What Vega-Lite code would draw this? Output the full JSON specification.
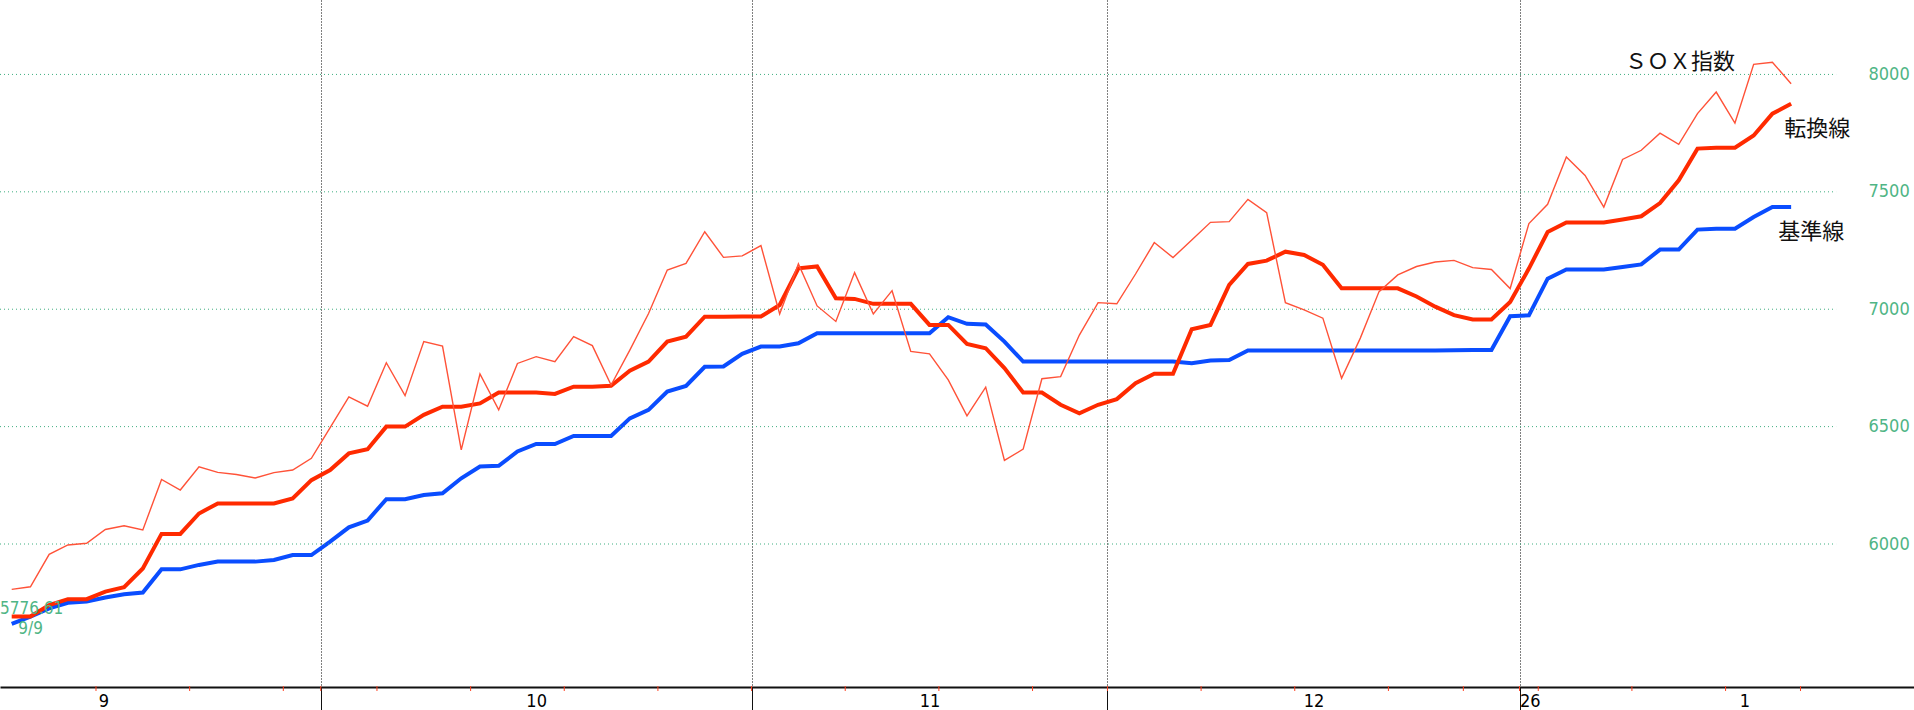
{
  "$schema": "https://vega.github.io/schema/vega-lite/v6.json",
  "width": 1914,
  "height": 687,
  "autosize": {"type": "none"},
  "padding": {"left": 0, "top": 0, "right": 0, "bottom": 23},
  "background": "white",
  "config": {"view": {"stroke": null}, "axis": {"grid": false}},
  "datasets": {
    "d": [
      {"i":0,"sox":5807,"tenkan":5691,"kijun":5660},
      {"i":1,"sox":5818,"tenkan":5691,"kijun":5691},
      {"i":2,"sox":5956,"tenkan":5740,"kijun":5726},
      {"i":3,"sox":5996,"tenkan":5765,"kijun":5750},
      {"i":4,"sox":6003,"tenkan":5765,"kijun":5755},
      {"i":5,"sox":6062,"tenkan":5797,"kijun":5772},
      {"i":6,"sox":6078,"tenkan":5816,"kijun":5786},
      {"i":7,"sox":6060,"tenkan":5896,"kijun":5793},
      {"i":8,"sox":6275,"tenkan":6043,"kijun":5892},
      {"i":9,"sox":6230,"tenkan":6043,"kijun":5892},
      {"i":10,"sox":6329,"tenkan":6130,"kijun":5911},
      {"i":11,"sox":6305,"tenkan":6173,"kijun":5925},
      {"i":12,"sox":6296,"tenkan":6173,"kijun":5925},
      {"i":13,"sox":6281,"tenkan":6173,"kijun":5925},
      {"i":14,"sox":6304,"tenkan":6173,"kijun":5932},
      {"i":15,"sox":6315,"tenkan":6194,"kijun":5953},
      {"i":16,"sox":6365,"tenkan":6272,"kijun":5953},
      {"i":17,"sox":6496,"tenkan":6315,"kijun":6010},
      {"i":18,"sox":6627,"tenkan":6386,"kijun":6071},
      {"i":19,"sox":6587,"tenkan":6404,"kijun":6100},
      {"i":20,"sox":6772,"tenkan":6500,"kijun":6191},
      {"i":21,"sox":6632,"tenkan":6500,"kijun":6191},
      {"i":22,"sox":6862,"tenkan":6550,"kijun":6209},
      {"i":23,"sox":6843,"tenkan":6585,"kijun":6216},
      {"i":24,"sox":6401,"tenkan":6585,"kijun":6280},
      {"i":25,"sox":6724,"tenkan":6599,"kijun":6330},
      {"i":26,"sox":6571,"tenkan":6645,"kijun":6333},
      {"i":27,"sox":6769,"tenkan":6645,"kijun":6394},
      {"i":28,"sox":6798,"tenkan":6645,"kijun":6426},
      {"i":29,"sox":6777,"tenkan":6639,"kijun":6426},
      {"i":30,"sox":6883,"tenkan":6670,"kijun":6460},
      {"i":31,"sox":6845,"tenkan":6670,"kijun":6460},
      {"i":32,"sox":6677,"tenkan":6674,"kijun":6460},
      {"i":33,"sox":6826,"tenkan":6738,"kijun":6535},
      {"i":34,"sox":6982,"tenkan":6777,"kijun":6571},
      {"i":35,"sox":7167,"tenkan":6862,"kijun":6649},
      {"i":36,"sox":7195,"tenkan":6883,"kijun":6673},
      {"i":37,"sox":7330,"tenkan":6968,"kijun":6755},
      {"i":38,"sox":7221,"tenkan":6968,"kijun":6756},
      {"i":39,"sox":7227,"tenkan":6969,"kijun":6810},
      {"i":40,"sox":7271,"tenkan":6969,"kijun":6841},
      {"i":41,"sox":6980,"tenkan":7018,"kijun":6841},
      {"i":42,"sox":7193,"tenkan":7174,"kijun":6855},
      {"i":43,"sox":7014,"tenkan":7182,"kijun":6898},
      {"i":44,"sox":6948,"tenkan":7047,"kijun":6898},
      {"i":45,"sox":7156,"tenkan":7044,"kijun":6898},
      {"i":46,"sox":6980,"tenkan":7023,"kijun":6898},
      {"i":47,"sox":7079,"tenkan":7023,"kijun":6898},
      {"i":48,"sox":6820,"tenkan":7023,"kijun":6898},
      {"i":49,"sox":6810,"tenkan":6933,"kijun":6898},
      {"i":50,"sox":6699,"tenkan":6933,"kijun":6966},
      {"i":51,"sox":6546,"tenkan":6852,"kijun":6938},
      {"i":52,"sox":6668,"tenkan":6834,"kijun":6935},
      {"i":53,"sox":6356,"tenkan":6749,"kijun":6862},
      {"i":54,"sox":6404,"tenkan":6645,"kijun":6777},
      {"i":55,"sox":6704,"tenkan":6645,"kijun":6777},
      {"i":56,"sox":6713,"tenkan":6593,"kijun":6777},
      {"i":57,"sox":6890,"tenkan":6557,"kijun":6777},
      {"i":58,"sox":7028,"tenkan":6593,"kijun":6777},
      {"i":59,"sox":7023,"tenkan":6617,"kijun":6777},
      {"i":60,"sox":7150,"tenkan":6685,"kijun":6777},
      {"i":61,"sox":7284,"tenkan":6725,"kijun":6777},
      {"i":62,"sox":7220,"tenkan":6725,"kijun":6777},
      {"i":63,"sox":7295,"tenkan":6915,"kijun":6770},
      {"i":64,"sox":7370,"tenkan":6933,"kijun":6782},
      {"i":65,"sox":7373,"tenkan":7104,"kijun":6784},
      {"i":66,"sox":7468,"tenkan":7193,"kijun":6824},
      {"i":67,"sox":7411,"tenkan":7207,"kijun":6824},
      {"i":68,"sox":7028,"tenkan":7245,"kijun":6824},
      {"i":69,"sox":6997,"tenkan":7231,"kijun":6824},
      {"i":70,"sox":6962,"tenkan":7189,"kijun":6824},
      {"i":71,"sox":6706,"tenkan":7089,"kijun":6824},
      {"i":72,"sox":6877,"tenkan":7089,"kijun":6824},
      {"i":73,"sox":7075,"tenkan":7089,"kijun":6824},
      {"i":74,"sox":7146,"tenkan":7089,"kijun":6824},
      {"i":75,"sox":7182,"tenkan":7054,"kijun":6824},
      {"i":76,"sox":7201,"tenkan":7011,"kijun":6824},
      {"i":77,"sox":7208,"tenkan":6975,"kijun":6825},
      {"i":78,"sox":7177,"tenkan":6956,"kijun":6826},
      {"i":79,"sox":7169,"tenkan":6956,"kijun":6826},
      {"i":80,"sox":7088,"tenkan":7031,"kijun":6970},
      {"i":81,"sox":7365,"tenkan":7173,"kijun":6974},
      {"i":82,"sox":7447,"tenkan":7329,"kijun":7130},
      {"i":83,"sox":7648,"tenkan":7369,"kijun":7169},
      {"i":84,"sox":7570,"tenkan":7369,"kijun":7169},
      {"i":85,"sox":7435,"tenkan":7369,"kijun":7169},
      {"i":86,"sox":7638,"tenkan":7382,"kijun":7180},
      {"i":87,"sox":7677,"tenkan":7396,"kijun":7191},
      {"i":88,"sox":7750,"tenkan":7452,"kijun":7254},
      {"i":89,"sox":7702,"tenkan":7549,"kijun":7254},
      {"i":90,"sox":7833,"tenkan":7684,"kijun":7339},
      {"i":91,"sox":7925,"tenkan":7688,"kijun":7343},
      {"i":92,"sox":7793,"tenkan":7688,"kijun":7343},
      {"i":93,"sox":8043,"tenkan":7740,"kijun":7393},
      {"i":94,"sox":8052,"tenkan":7833,"kijun":7435},
      {"i":95,"sox":7960,"tenkan":7875,"kijun":7435}
    ],
    "hgrid": [{"g":6000},{"g":6500},{"g":7000},{"g":7500},{"g":8000}],
    "weeks": [{"w":4.5},{"w":9.5},{"w":14.5},{"w":16.5},{"w":19.5},{"w":24.5},{"w":29.5},{"w":34.5},{"w":39.5},{"w":44.5},{"w":49.5},{"w":54.5},{"w":58.5},{"w":63.5},{"w":68.5},{"w":73.5},{"w":77.5},{"w":80.5},{"w":81.5},{"w":86.5},{"w":91.5},{"w":95.5}],
    "names": [
      {"i":89.07,"v":8053,"t":"ＳＯＸ指数"},
      {"i":96.4,"v":7768,"t":"転換線"},
      {"i":96.07,"v":7330,"t":"基準線"}
    ],
    "notes": [
      {"i":-0.625,"v":5722,"t":"5776.61"},
      {"i":0.35,"v":5640,"t":"9/9"}
    ]
  },
  "layer": [
    {
      "data": {"name": "d"},
      "mark": {"type": "line", "color": "#0a4dff", "strokeWidth": 4},
      "encoding": {
        "x": {
          "field": "i", "type": "quantitative", "title": null,
          "scale": {"domain": [-0.625, 101.56], "nice": false, "zero": false},
          "axis": {
            "title": null,
            "values": [4.9, 16.5, 28, 39.5, 49, 58.5, 69.5, 80.5, 92.5],
            "labelExpr": "datum.value == 4.9 ? '9' : datum.value == 28 ? '10' : datum.value == 49 ? '11' : datum.value == 69.5 ? '12' : datum.value == 80.5 ? '26' : datum.value == 92.5 ? '1' : ''",
            "domainColor": "#111111", "domainWidth": 2,
            "tickColor": "#111111", "tickSize": 23, "tickWidth": 1,
            "tickOpacity": {"condition": {"test": "indexof([16.5,39.5,58.5,80.5], datum.value) >= 0", "value": 1}, "value": 0},
            "grid": true,
            "gridColor": "#000000", "gridDash": [1, 2], "gridWidth": 1,
            "gridOpacity": {"condition": {"test": "indexof([16.5,39.5,58.5,80.5], datum.value) >= 0", "value": 1}, "value": 0},
            "labelAlign": {"condition": {"test": "datum.value == 80.5", "value": "left"}, "value": "center"},
            "labelPadding": -4,
            "labelBaseline": "alphabetic",
            "labelFont": "Liberation Sans Narrow, Arial Narrow, DejaVu Sans Condensed, Liberation Sans, sans-serif",
            "labelFontSize": 18,
            "labelColor": "#000000",
            "labelOverlap": false, "labelFlush": false, "labelBound": false
          }
        },
        "y": {
          "field": "kijun", "type": "quantitative", "title": null,
          "scale": {"domain": [5391, 8317], "nice": false, "zero": false},
          "axis": {
            "title": null, "orient": "right", "offset": -46,
            "values": [6000, 6500, 7000, 7500, 8000],
            "grid": false, "domain": false, "ticks": false,
            "labelPadding": 0,
            "labelColor": "#4fb585",
            "labelFont": "Liberation Sans Narrow, Arial Narrow, DejaVu Sans Condensed, Liberation Sans, sans-serif",
            "labelFontSize": 18, "labelAlign": "left", "labelBaseline": "middle",
            "format": "d"
          }
        }
      }
    },
    {
      "data": {"name": "hgrid"},
      "mark": {"type": "rule", "color": "#3fae80", "strokeDash": [1, 3], "strokeWidth": 1},
      "encoding": {
        "y": {"field": "g", "type": "quantitative", "title": null},
        "x": {"datum": -0.625, "type": "quantitative"},
        "x2": {"datum": 97.4}
      }
    },
    {
      "data": {"name": "weeks"},
      "mark": {"type": "rule", "color": "#ff4020", "strokeWidth": 1},
      "encoding": {
        "x": {"field": "w", "type": "quantitative", "title": null},
        "y": {"datum": 5395, "type": "quantitative"},
        "y2": {"datum": 5374}
      }
    },
    {
      "data": {"name": "d"},
      "mark": {"type": "line", "color": "#ff2a00", "strokeWidth": 4},
      "encoding": {
        "x": {"field": "i", "type": "quantitative", "title": null},
        "y": {"field": "tenkan", "type": "quantitative", "title": null}
      }
    },
    {
      "data": {"name": "d"},
      "mark": {"type": "line", "color": "#ff5238", "strokeWidth": 1.4},
      "encoding": {
        "x": {"field": "i", "type": "quantitative", "title": null},
        "y": {"field": "sox", "type": "quantitative", "title": null}
      }
    },
    {
      "data": {"name": "names"},
      "mark": {"type": "text", "font": "Noto Sans CJK JP", "fontSize": 22, "color": "#111111", "align": "center", "baseline": "middle"},
      "encoding": {
        "x": {"field": "i", "type": "quantitative", "title": null},
        "y": {"field": "v", "type": "quantitative", "title": null},
        "text": {"field": "t"}
      }
    },
    {
      "data": {"name": "notes"},
      "mark": {"type": "text", "font": "Liberation Sans Narrow, Arial Narrow, DejaVu Sans Condensed, Liberation Sans, sans-serif", "fontSize": 17, "color": "#4fb585", "align": "left", "baseline": "middle"},
      "encoding": {
        "x": {"field": "i", "type": "quantitative", "title": null},
        "y": {"field": "v", "type": "quantitative", "title": null},
        "text": {"field": "t"}
      }
    }
  ]
}
